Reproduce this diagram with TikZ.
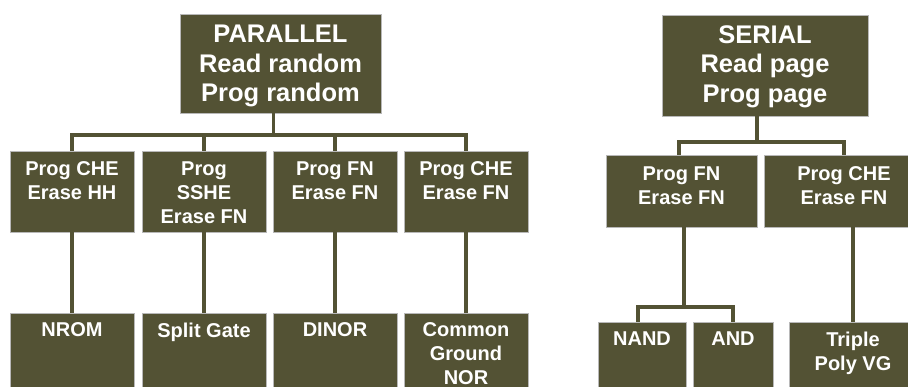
\documentclass[tikz,border=0pt]{standalone}
\usepackage{fontspec}
\setmainfont{Liberation Sans}
\definecolor{boxolive}{HTML}{535234}
\tikzset{
  boxnode/.style={rectangle, fill=boxolive, draw=black!28, line width=0.7pt, inner sep=0pt, outer sep=0pt, anchor=north west},
  bigtxt/.style={text=white, font=\bfseries\fontsize{25.5}{29.5}\selectfont, align=center, anchor=north, inner sep=0pt},
  smalltxt/.style={text=white, font=\bfseries\fontsize{20}{24}\selectfont, align=center, anchor=north, inner sep=0pt},
  conn/.style={draw=boxolive, line width=3.2pt},
}
\begin{document}
\begin{tikzpicture}[x=1pt,y=-1pt]
\useasboundingbox[fill=white] (0,0) rectangle (908,387);
% ---------- PARALLEL ----------
\node[boxnode, minimum width=201pt, minimum height=99pt] (par) at (180,14) {};
\node[boxnode, minimum width=124pt, minimum height=81pt] (c1) at (10,151) {};
\node[boxnode, minimum width=124pt, minimum height=81pt] (c2) at (142,151) {};
\node[boxnode, minimum width=124pt, minimum height=81pt] (c3) at (273,151) {};
\node[boxnode, minimum width=124pt, minimum height=81pt] (c4) at (404,151) {};
\node[boxnode, minimum width=124pt, minimum height=80pt] (l1) at (10,313) {};
\node[boxnode, minimum width=124pt, minimum height=80pt] (l2) at (142,313) {};
\node[boxnode, minimum width=124pt, minimum height=80pt] (l3) at (273,313) {};
\node[boxnode, minimum width=124pt, minimum height=80pt] (l4) at (404,313) {};
% ---------- SERIAL ----------
\node[boxnode, minimum width=206pt, minimum height=101pt] (ser) at (662,15) {};
\node[boxnode, minimum width=151pt, minimum height=72pt] (sc1) at (606,155) {};
\node[boxnode, minimum width=160pt, minimum height=72pt] (sc2) at (764,155) {};
\node[boxnode, minimum width=88pt, minimum height=70pt] (nand) at (598,322) {};
\node[boxnode, minimum width=80pt, minimum height=70pt] (and) at (693,322) {};
\node[boxnode, minimum width=128pt, minimum height=70pt] (triple) at (789,322) {};
% ---------- connectors ----------
\coordinate (pbar) at (273.5,135);
\draw[conn] ([xshift=-7pt]par.south) -- (pbar);
\draw[conn] (c1.north) -- (c1.north |- pbar) -- (c4.north |- pbar) -- (c4.north);
\draw[conn] (c2.north) -- (c2.north |- pbar);
\draw[conn] (c3.north) -- (c3.north |- pbar);
\draw[conn] (c1.south) -- (l1.north);
\draw[conn] (c2.south) -- (l2.north);
\draw[conn] (c3.south) -- (l3.north);
\draw[conn] (c4.south) -- (l4.north);
\coordinate (sbar) at (757,142);
\coordinate (sl) at (679,142);
\draw[conn] ([xshift=-8pt]ser.south) -- (sbar);
\draw[conn] (sl |- sc1.north) -- (sl) -- (sc2.north |- sl) -- (sc2.north);
\coordinate (nbar) at (684,307);
\coordinate (nl) at (638,307);
\draw[conn] (sc1.south -| nbar) -- (nbar);
\draw[conn] (nl |- nand.north) -- (nl) -- (and.north |- nl) -- (and.north);
\draw[conn] (triple.north |- sc2.south) -- (triple.north);
% ---------- texts ----------
\node[bigtxt] (partxt) at ([yshift=-11pt]par.north) {PARALLEL\\Read random\\Prog random};
\node[bigtxt] (sertxt) at ([yshift=-10pt]ser.north) {SERIAL\\Read page\\Prog page};
\node[smalltxt] (c1txt) at ([yshift=-10.5pt]c1.north) {Prog CHE\\Erase HH};
\node[smalltxt] (c2txt) at ([yshift=-10.5pt]c2.north) {Prog\\SSHE\\Erase FN};
\node[smalltxt] (c3txt) at ([yshift=-10.5pt]c3.north) {Prog FN\\Erase FN};
\node[smalltxt] (c4txt) at ([yshift=-10.5pt]c4.north) {Prog CHE\\Erase FN};
\node[smalltxt] (l1txt) at ([yshift=-9.5pt]l1.north) {NROM};
\node[smalltxt] (l2txt) at ([yshift=-9.5pt]l2.north) {Split Gate};
\node[smalltxt] (l3txt) at ([yshift=-9.5pt]l3.north) {DINOR};
\node[smalltxt] (l4txt) at ([yshift=-9.5pt]l4.north) {Common\\Ground\\NOR};
\node[smalltxt] (sc1txt) at ([yshift=-11.5pt]sc1.north) {Prog FN\\Erase FN};
\node[smalltxt] (sc2txt) at ([yshift=-11.5pt]sc2.north) {Prog CHE\\Erase FN};
\node[smalltxt] (nandtxt) at ([yshift=-10pt]nand.north) {NAND};
\node[smalltxt] (andtxt) at ([yshift=-10pt]and.north) {AND};
\node[smalltxt] (tripletxt) at ([yshift=-10pt]triple.north) {Triple\\Poly VG};
\end{tikzpicture}
\end{document}
